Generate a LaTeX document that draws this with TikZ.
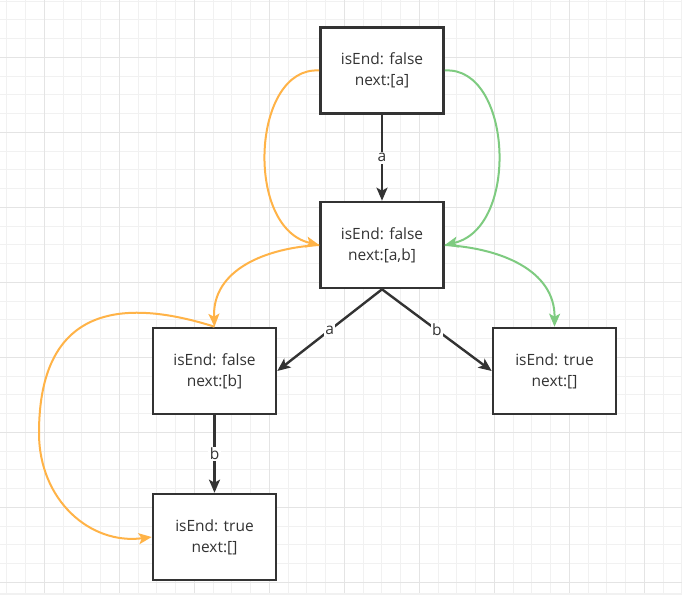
\documentclass[tikz,border=0pt]{standalone}
\usepackage{fontspec}
\setmainfont{Open Sans}
\usetikzlibrary{arrows.meta,positioning}
\definecolor{ink}{HTML}{333333}
\definecolor{trieorange}{HTML}{FFB347}
\definecolor{triegreen}{HTML}{7ECB80}
\definecolor{gridminor}{HTML}{F1F1F1}
\definecolor{gridmajor}{HTML}{E4E4E4}
\tikzset{
  minorgrid/.style={draw=gridminor,line width=1pt},
  majorgrid/.style={draw=gridmajor,line width=1pt},
  state/.style={draw=ink,line width=2.6pt,fill=white,minimum width=123pt,
    minimum height=86pt,inner sep=0pt,align=center,text=ink,
    font=\fontsize{15.5}{21}\selectfont},
  edge/.style={draw=ink,line width=2.4pt,-{Stealth[length=13pt,width=11pt,inset=3pt]}},
  lbl/.style={fill=white,inner sep=1.5pt,text=ink,font=\fontsize{15.5}{18}\selectfont},
  faillink/.style={draw=trieorange,line width=2pt,-{Stealth[length=13pt,width=11pt,inset=3pt]}},
  outlink/.style={draw=triegreen,line width=2pt,-{Stealth[length=13pt,width=11pt,inset=3pt]}}
}

\begin{document}
\begin{tikzpicture}[x=1pt,y=1pt]
  \useasboundingbox (0,0) rectangle (682,-595);
  \fill[white] (0,0) rectangle (682,-595);

  % Grid
  \foreach \i in {0,...,36}
    \draw[minorgrid] ({6.8+18.75*\i},0) -- ++(0,-593);
  \foreach \j in {0,...,31}
    \draw[minorgrid] (0,{-1.05-18.75*\j}) -- ++(682,0);
  \foreach \i in {0,...,8}
    \draw[majorgrid] ({44.3+75*\i},0) -- ++(0,-593);
  \foreach \j in {0,...,7}
    \draw[majorgrid] (0,{-57.3-75*\j}) -- ++(682,0);
  \fill[gridminor] (0,-593) rectangle (682,-595);

  % States
  \node[state] (nroot) at (382,-70.5) {isEnd: false\\next:[a]};
  \node[state] (na)    at (382,-245)  {isEnd: false\\next:[a,b]};
  \node[state] (naa)   at (214.5,-371) {isEnd: false\\next:[b]};
  \node[state] (nab)   at (554.5,-371) {isEnd: true\\next:[]};
  \node[state] (naab)  at (214.5,-537) {isEnd: true\\next:[]};

  % Transitions
  \draw[edge] (nroot) -- node[lbl] {a} (na);
  \draw[edge] (na.south) -- node[lbl] {a} (naa.east);
  \draw[edge] (na.south) -- node[lbl] {b} (nab.west);
  \draw[edge] (naa) -- node[lbl] {b} (naab);

  % Fail links
  \coordinate (farleft) at (39,-433);
  \draw[faillink] (nroot.west) .. controls (252,-66) and (244,-228) .. (na.west);
  \draw[faillink] (na.west) .. controls (265,-248) and (212,-270) .. (naa.north);
  \draw[faillink] (naa.north) .. controls (130,-300) and (39,-300) .. (farleft)
    .. controls (39,-500) and (90,-545) .. (naab.west);

  % Output links
  \draw[outlink] (nroot.east) .. controls (512,-66) and (520,-228) .. (na.east);
  \draw[outlink] (na.east) .. controls (500,-248) and (555,-270) .. (nab.north);
\end{tikzpicture}
\end{document}
